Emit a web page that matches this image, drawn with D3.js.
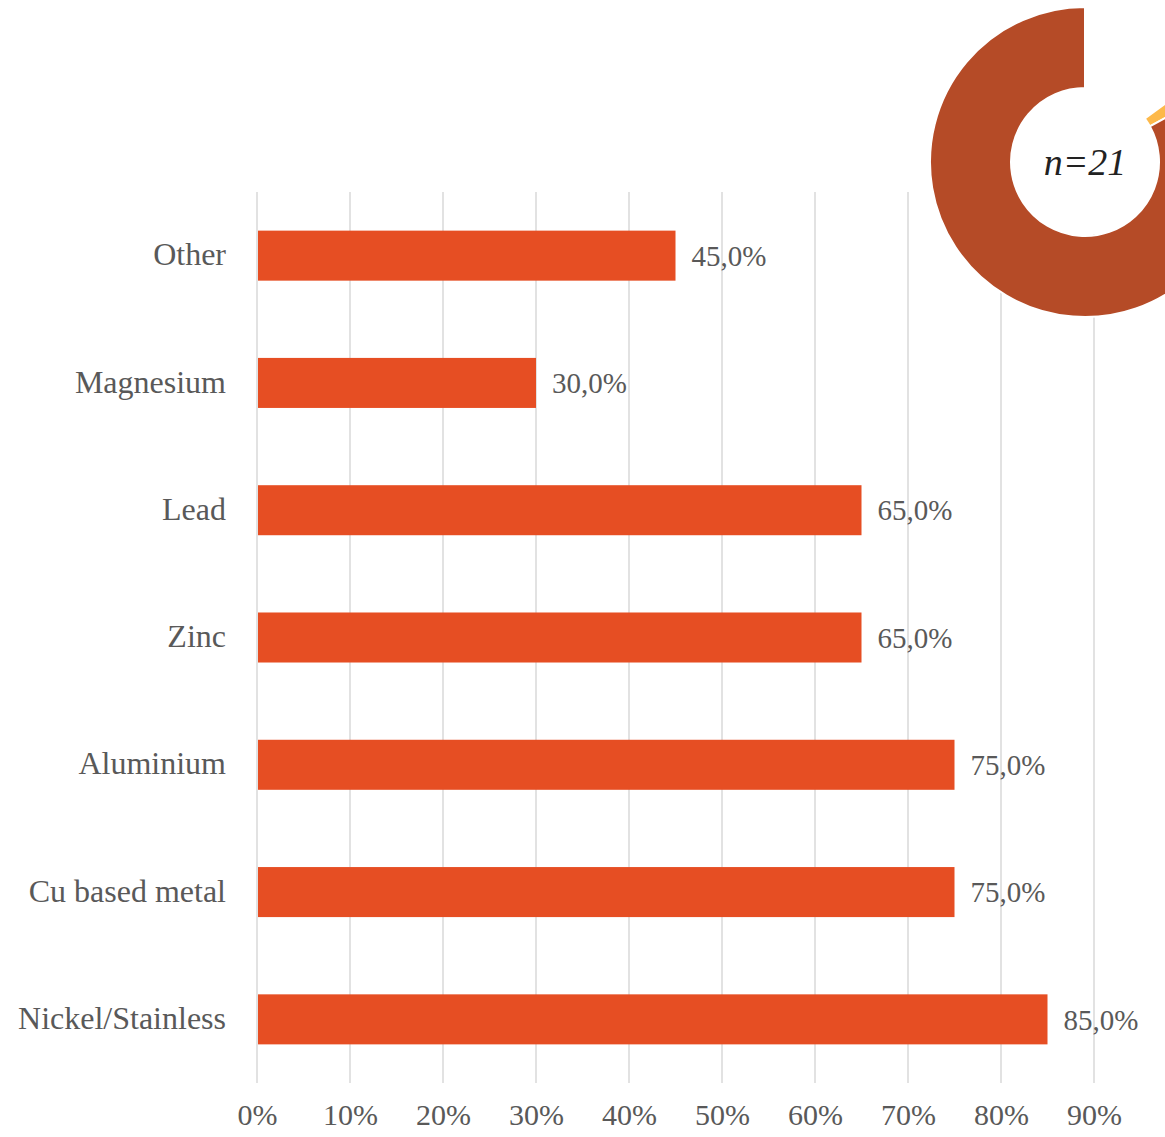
<!DOCTYPE html>
<html>
<head>
<meta charset="utf-8">
<script src="https://cdn.jsdelivr.net/npm/d3@7"></script>
<style>
  body { margin: 0; background: #fff; }
  svg { display: block; }
</style>
</head>
<body>
<div id="canvas"></div>
<script>
// bar data, top to bottom
var categories = ["Other", "Magnesium", "Lead", "Zinc", "Aluminium", "Cu based metal", "Nickel/Stainless"];
var shares = [45, 30, 65, 65, 75, 75, 85];
var tickValues = [0, 10, 20, 30, 40, 50, 60, 70, 80, 90];

// donut in the corner (clockwise from 12 o'clock)
var donutValues = [15, 2, 83];
var donutColors = ["none", "#FDB94A", "#B54B27"];
var sampleLabel = "n=21";

function run() {
  var width = 1165,
    height = 1137;

  var svg = d3
    .select("#canvas")
    .append("svg")
    .attr("width", width)
    .attr("height", height);

  var font = "'Liberation Serif', 'Times New Roman', serif";

  var x = d3.scaleLinear().domain([0, 90]).range([257, 1094]);

  var y = d3
    .scaleBand()
    .domain(categories)
    .range([192, 1083])
    .paddingInner(0.607)
    .paddingOuter(0.3035);

  // gridlines
  svg
    .append("g")
    .selectAll("line")
    .data(tickValues)
    .enter()
    .append("line")
    .attr("x1", d => x(d))
    .attr("x2", d => x(d))
    .attr("y1", 192)
    .attr("y2", 1083)
    .style("stroke", "#d9d9d9")
    .style("stroke-width", 1.5);

  // x axis labels
  var xAxis = d3
    .axisBottom(x)
    .tickValues(tickValues)
    .tickSize(0)
    .tickPadding(0)
    .tickFormat(d => d + "%");

  var ax = svg
    .append("g")
    .attr("transform", "translate(0,1104)")
    .call(xAxis);
  ax.select(".domain").remove();
  ax.selectAll("text")
    .style("font-family", font)
    .style("font-size", "30px")
    .style("fill", "#595959");

  // bars
  svg
    .append("g")
    .selectAll("rect")
    .data(shares)
    .enter()
    .append("rect")
    .attr("x", x(0) + 1)
    .attr("y", (d, i) => y(categories[i]))
    .attr("width", d => x(d) - x(0) - 1)
    .attr("height", y.bandwidth())
    .style("fill", "#E64E23");

  // value labels
  svg
    .append("g")
    .selectAll("text")
    .data(shares)
    .enter()
    .append("text")
    .attr("x", d => x(d) + 16)
    .attr("y", (d, i) => y(categories[i]) + y.bandwidth() / 2)
    .attr("dy", "0.35em")
    .text(d => d.toFixed(1).replace(".", ",") + "%")
    .style("font-family", font)
    .style("font-size", "29px")
    .style("fill", "#595959");

  // category labels
  svg
    .append("g")
    .selectAll("text")
    .data(categories)
    .enter()
    .append("text")
    .attr("x", 226)
    .attr("y", d => y(d) + y.bandwidth() / 2)
    .attr("dy", "0.3em")
    .attr("text-anchor", "end")
    .text(d => d)
    .style("font-family", font)
    .style("font-size", "32px")
    .style("fill", "#595959");

  // donut
  var pie = d3.pie().sort(null).value(d => d);
  var arc = d3.arc().innerRadius(74).outerRadius(155);

  var donut = svg.append("g").attr("transform", "translate(1085,162)");
  donut
    .selectAll("path")
    .data(pie(donutValues))
    .enter()
    .append("path")
    .attr("d", arc)
    .style("fill", (d, i) => donutColors[i])
    .style("stroke", (d, i) => (donutColors[i] === "none" ? "none" : "#fff"))
    .style("stroke-width", 2);

  donut
    .append("circle")
    .attr("r", 73)
    .style("fill", "#fff");

  donut
    .append("text")
    .attr("dy", "0.35em")
    .attr("text-anchor", "middle")
    .style("font-family", font)
    .style("font-style", "italic")
    .style("font-size", "38px")
    .style("fill", "#222")
    .text(sampleLabel);
}

(function() {
  run();
})();
</script>
</body>
</html>
